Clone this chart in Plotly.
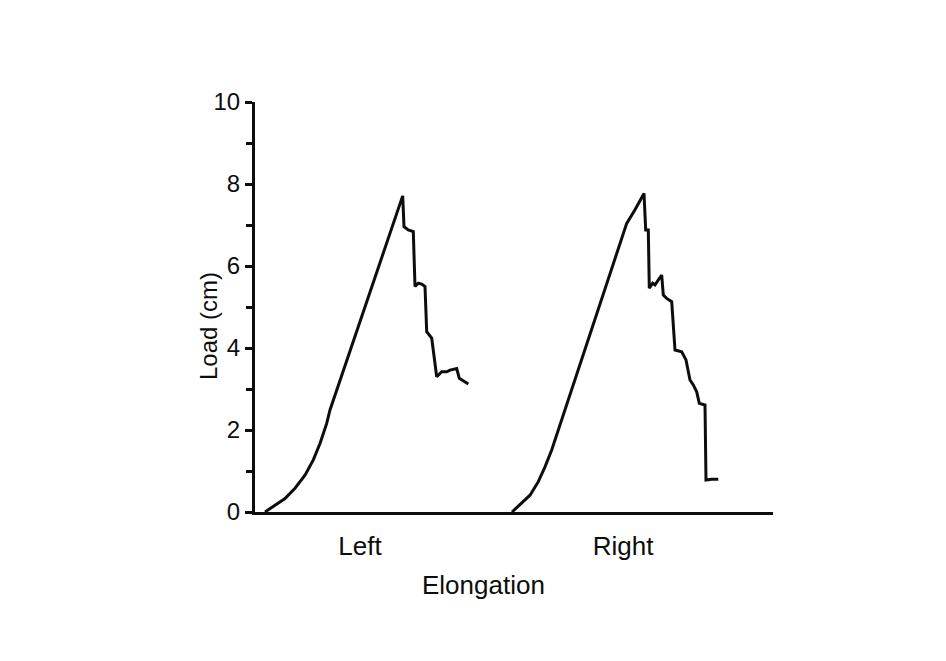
import plotly.graph_objects as go

# Elongation (arbitrary units) and load (cm) for the two specimens
left_elong = [1.0, 2.0, 3.0, 4.0, 5.0, 5.83, 6.5, 7.17, 7.5, 14.77, 14.9, 15.33, 15.83, 16.0, 16.33,
              16.67, 17.0, 17.17, 17.67, 18.17, 18.67, 19.17, 19.5, 20.17, 20.43, 21.33]
left_load = [0.0, 0.17, 0.33, 0.58, 0.90, 1.27, 1.67, 2.16, 2.49, 7.71, 6.96, 6.88, 6.84, 5.50, 5.58,
             5.56, 5.50, 4.40, 4.24, 3.30, 3.42, 3.42, 3.46, 3.50, 3.26, 3.12]

right_elong = [25.7, 26.67, 27.5, 28.33, 29.0, 29.67, 30.33, 31.0, 37.17, 38.0, 38.9, 39.07, 39.33,
               39.43, 39.77, 40.0, 40.33, 40.67, 40.83, 41.17, 41.67, 42.0, 42.67, 43.1, 43.5,
               43.83, 44.17, 44.43, 45.0, 45.1, 45.67, 46.33]
right_load = [0.0, 0.21, 0.41, 0.74, 1.10, 1.51, 2.0, 2.49, 7.04, 7.37, 7.77, 6.88, 6.88,
              5.46, 5.58, 5.54, 5.66, 5.78, 5.29, 5.21, 5.13, 3.95, 3.91, 3.71, 3.22,
              3.10, 2.93, 2.65, 2.61, 0.78, 0.80, 0.80]

category_positions = [10.5, 36.8]
category_labels = ["Left", "Right"]
y_tick_vals = [0, 2, 4, 6, 8, 10]

FONT = "Liberation Sans, Arial, Helvetica, sans-serif"
INK = "#0d0d0d"

fig = go.Figure()
for xs, ys in [(left_elong, left_load), (right_elong, right_load)]:
    fig.add_trace(go.Scatter(x=xs, y=ys, mode="lines",
                             line=dict(color=INK, width=3),
                             showlegend=False, hoverinfo="skip"))

fig.update_layout(
    width=946, height=661,
    margin=dict(l=247, r=181, t=94, b=157),
    paper_bgcolor="white", plot_bgcolor="white",
    font=dict(family=FONT, color=INK),
    annotations=[
        dict(text="Load (cm)", textangle=-90, xref="paper", yref="paper",
             x=(208 - 255) / 518, y=(512 - 326) / 410,
             xanchor="center", yanchor="middle", showarrow=False,
             font=dict(size=24, family=FONT, color=INK)),
        dict(text="Elongation", xref="paper", yref="paper",
             x=(483 - 255) / 518, y=(512 - 585) / 410,
             xanchor="center", yanchor="middle", showarrow=False,
             font=dict(size=26, family=FONT, color=INK)),
    ],
)
fig.update_xaxes(
    range=[0, 51.8], showgrid=False, zeroline=False,
    showline=True, linecolor=INK, linewidth=3,
    tickvals=category_positions, ticktext=category_labels,
    ticks="", tickfont=dict(size=26, family=FONT, color=INK),
    ticklabelstandoff=9,
)
fig.update_yaxes(
    range=[0, 10], showgrid=False, zeroline=False,
    showline=True, linecolor=INK, linewidth=3,
    tickvals=y_tick_vals, ticks="outside", ticklen=7, tickwidth=2.5, tickcolor=INK,
    tickfont=dict(size=24, family=FONT, color=INK),
    minor=dict(dtick=1, ticks="outside", ticklen=6, tickwidth=2.5, tickcolor=INK, showgrid=False),
)

fig.write_html("out.html")
